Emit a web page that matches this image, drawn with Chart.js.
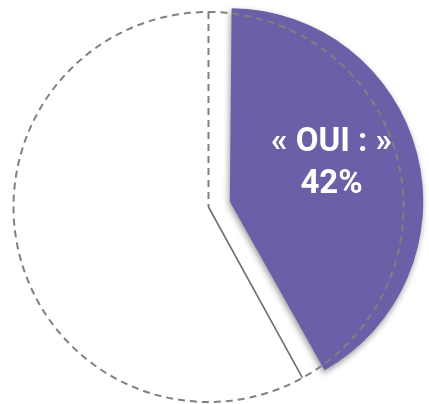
<!DOCTYPE html>
<html lang="fr">
<head>
<meta charset="utf-8">
<script src="https://cdn.jsdelivr.net/npm/chart.js@4.4.1/dist/chart.umd.min.js"></script>
<style>
  html,body{margin:0;padding:0;background:#fff}
  #wrap{width:429px;height:404px;position:relative}
</style>
</head>
<body>
<div id="wrap"><canvas id="ch-oui"></canvas></div>
<script>
// ===================== DONNÉES =====================
const categories=['OUI','NON'];
const valeurs=[42,58];          // %
const couleurs=['#6b5fa7','rgba(255,255,255,0)'];
const decalage=[88,0];          // part « OUI » détachée (Chart.js divise par 4)

// ── réduit le rayon de la part détachée (le décalage l'agrandit) ──
const trimPart={id:'trimPart',afterDatasetUpdate(chart,args){
  const a=args.meta.data[0];
  if(a) a.outerRadius=a.outerRadius-13;
}};

// ── ombre portée sous la part violette ──
const ombre={id:'ombre',
  beforeDatasetDraw(chart){
    const ctx=chart.ctx;
    ctx.save();
    ctx.shadowColor='rgba(0,0,0,.4)';ctx.shadowBlur=6;ctx.shadowOffsetX=-1;ctx.shadowOffsetY=3;
  },
  afterDatasetDraw(chart){ chart.ctx.restore(); }
};

// ── contour pointillé du cercle + rayons + étiquette ──
const contour={id:'contour',afterDatasetsDraw(chart){
  const ctx=chart.ctx, meta=chart.getDatasetMeta(0);
  const w=meta.data[1], p=meta.data[0];
  const {x,y,outerRadius:r,startAngle:a0,endAngle:a1}=w.getProps(['x','y','outerRadius','startAngle','endAngle'],true);
  ctx.save();
  ctx.strokeStyle='#808080';ctx.lineWidth=2;ctx.setLineDash([7,5]);
  ctx.beginPath();ctx.arc(x,y,r,-Math.PI/2,Math.PI*1.5);ctx.stroke();
  ctx.beginPath();ctx.moveTo(x+r*Math.cos(a1),y+r*Math.sin(a1));ctx.lineTo(x,y);ctx.stroke();
  ctx.setLineDash([]);ctx.lineWidth=1.6;ctx.strokeStyle='#6f6f6f';
  ctx.beginPath();ctx.moveTo(x,y);ctx.lineTo(x+r*Math.cos(a0),y+r*Math.sin(a0));ctx.stroke();

  // étiquette de la part OUI
  const pp=p.getProps(['x','y','startAngle','endAngle'],true);
  const mid=(pp.startAngle+pp.endAngle)/2;
  const lx=pp.x+Math.cos(mid)*127, ly=pp.y+Math.sin(mid)*127;
  ctx.fillStyle='#fff';ctx.textAlign='center';ctx.textBaseline='middle';
  ctx.font='bold 33px "Liberation Sans Narrow","Arial Narrow",Roboto,sans-serif';
  ctx.fillText('« '+categories[0]+' : »',lx,ly-33);
  ctx.fillText(valeurs[0]+'%',lx,ly+9);
  ctx.restore();
}};

new Chart(document.getElementById('ch-oui'),{type:'pie',
  data:{labels:categories,datasets:[{data:valeurs,backgroundColor:couleurs,borderWidth:0,offset:decalage,radius:195}]},
  options:{responsive:true,maintainAspectRatio:false,animation:false,events:[],
    layout:{padding:{left:0,right:12,top:10,bottom:0}},
    plugins:{legend:{display:false},tooltip:{enabled:false}}},
  plugins:[trimPart,ombre,contour]
});
</script>
</body>
</html>
